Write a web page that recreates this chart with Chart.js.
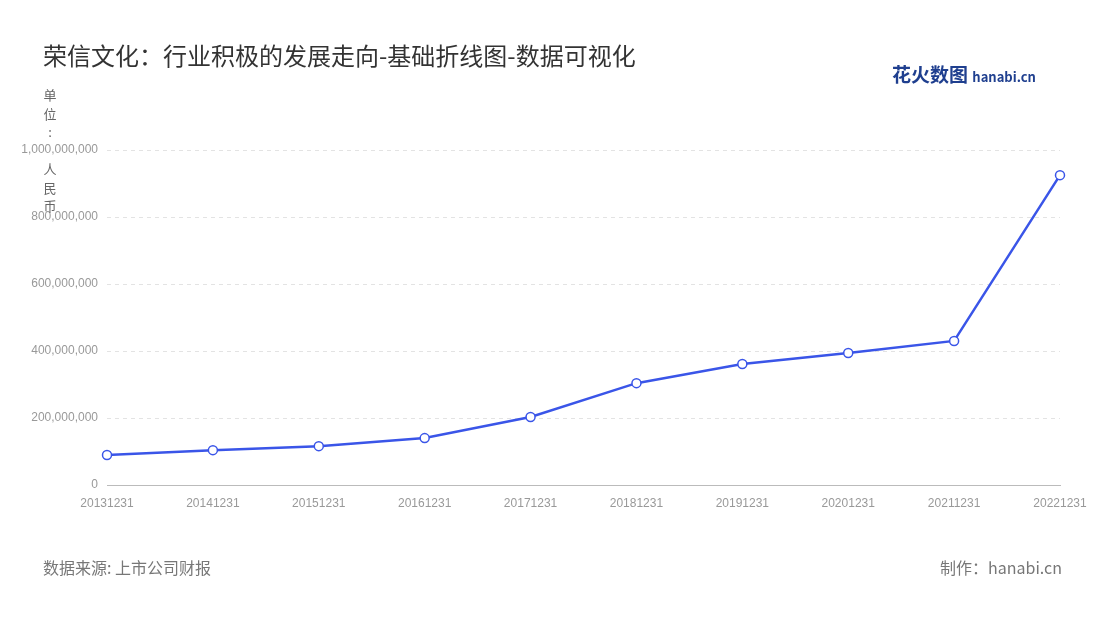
<!DOCTYPE html>
<html><head><meta charset="utf-8">
<script src="https://cdn.jsdelivr.net/npm/chart.js@4"></script>
<style>
body{margin:0;background:#fff;font-family:"Noto Sans CJK SC","Noto Sans",sans-serif;}
#wrap{position:relative;width:1100px;height:620px;}
canvas{position:absolute;left:0;top:0;}
.t{position:absolute;left:43px;top:37px;font-size:24px;color:#333;}
.unit{position:absolute;left:43px;top:86px;width:14px;font-size:13px;color:#666;line-height:18.5px;text-align:center;}
.src{position:absolute;left:43px;top:555px;font-size:16px;color:#777;}
.mk{position:absolute;right:38px;top:555px;font-size:16px;color:#777;}
.logo{position:absolute;left:892px;top:60px;font-size:19px;font-weight:bold;color:#1f3f8f;}
.logo span{font-size:13px;}
</style></head><body>
<div id="wrap">
<canvas id="c" width="1100" height="620"></canvas>
<div class="t">荣信文化：行业积极的发展走向-基础折线图-数据可视化</div>
<div class="unit">单<br>位<br>:<br>&nbsp;<br>人<br>民<br>币</div>
<div class="logo">花火数图 <span>hanabi.cn</span></div>
<div class="src">数据来源: 上市公司财报</div>
<div class="mk">制作：hanabi.cn</div>
</div>
<script>
const categories=["20131231","20141231","20151231","20161231","20171231","20181231","20191231","20201231","20211231","20221231"];
const values=[89600000,104000000,116000000,140000000,203000000,304000000,361000000,394000000,430000000,925000000];
new Chart(document.getElementById('c'),{
type:'line',
data:{labels:categories,datasets:[{data:values,borderColor:'#3a55e8',borderWidth:2.5,pointBackgroundColor:'#fff',pointBorderColor:'#3a55e8',pointBorderWidth:1.5,pointRadius:4.5,tension:0}]},
options:{responsive:false,animation:false,
layout:{padding:{left:0,top:150,right:40,bottom:105}},
plugins:{legend:{display:false},tooltip:{enabled:false}},
scales:{
x:{offset:false,grid:{display:false},border:{color:'#bbb'},ticks:{color:'#999',font:{size:12},maxRotation:0,autoSkip:false},afterFit(s){s.height=30;}},
y:{min:0,max:1000000000,ticks:{stepSize:200000000,color:'#999',font:{size:12},padding:9,callback:v=>v.toLocaleString('en-US')},grid:{color:'#e3e3e3',tickLength:0},border:{display:false,dash:[4,4]},afterFit(s){s.width=107;}}
}}
});
</script>
</body></html>
